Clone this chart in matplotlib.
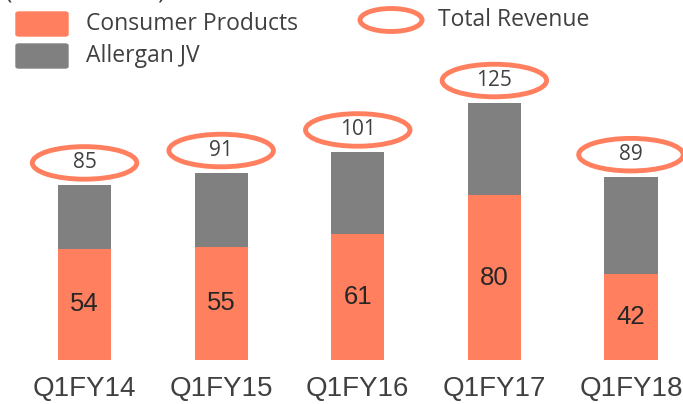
import matplotlib.pyplot as plt
from matplotlib.patches import Ellipse, FancyBboxPatch

quarters = ["Q1FY14", "Q1FY15", "Q1FY16", "Q1FY17", "Q1FY18"]
consumer = [54, 55, 61, 80, 42]
allergan = [31, 36, 40, 45, 47]
total = [85, 91, 101, 125, 89]

orange = "#FF7F5F"
gray = "#808080"
txt = "#404040"

fig = plt.figure(figsize=(6.83, 4.04), dpi=100)
ax = fig.add_axes([0, 44 / 404, 1, 360 / 404])

x = range(len(quarters))
ax.bar(x, consumer, width=0.39, color=orange)
ax.bar(x, allergan, width=0.39, bottom=consumer, color=gray)

for i in x:
    ax.text(i, consumer[i] / 2, str(consumer[i]), ha="center", va="center",
            fontsize=18.5, family="Liberation Sans", color="#262626")
    ax.add_patch(Ellipse((i, total[i] + 10.7), 0.765, 15.8, fill=False,
                         edgecolor=orange, lw=3.5))
    ax.text(i, total[i] + 10.7, str(total[i]), ha="center", va="center",
            fontsize=15, family="Open Sans", color=txt)

ax.set_xlim(-0.619, 4.381)
ax.set_ylim(0, 174.8)
ax.axis("off")

for i, q in enumerate(quarters):
    ax.text(i, -14, q, ha="center", va="center", fontsize=20,
            family="Liberation Sans", color=txt, clip_on=False)

# legend (unit label sits mostly above the top edge, as in the source)
fig.text(5 / 683, 1 + 9 / 404, "(Rs. in Crores)", fontsize=18, family="Open Sans",
         color=txt, va="center")
for yy, col, lab in [(24, orange, "Consumer Products"), (56, gray, "Allergan JV")]:
    fig.patches.append(FancyBboxPatch((16 / 683, 1 - (yy + 12) / 404), 52 / 683, 24 / 404,
                                      boxstyle="round,pad=0,rounding_size=0.004",
                                      transform=fig.transFigure, color=col))
    fig.text(86 / 683, 1 - yy / 404, lab, fontsize=16.5, family="Open Sans",
             color=txt, va="center")
fig.patches.append(Ellipse((391 / 683, 1 - 20 / 404), 62 / 683, 23 / 404,
                           transform=fig.transFigure, fill=False,
                           edgecolor=orange, lw=3.5))
fig.text(438 / 683, 1 - 20 / 404, "Total Revenue", fontsize=16.5, family="Open Sans",
         color=txt, va="center")

fig.savefig("out.png", dpi=100)
